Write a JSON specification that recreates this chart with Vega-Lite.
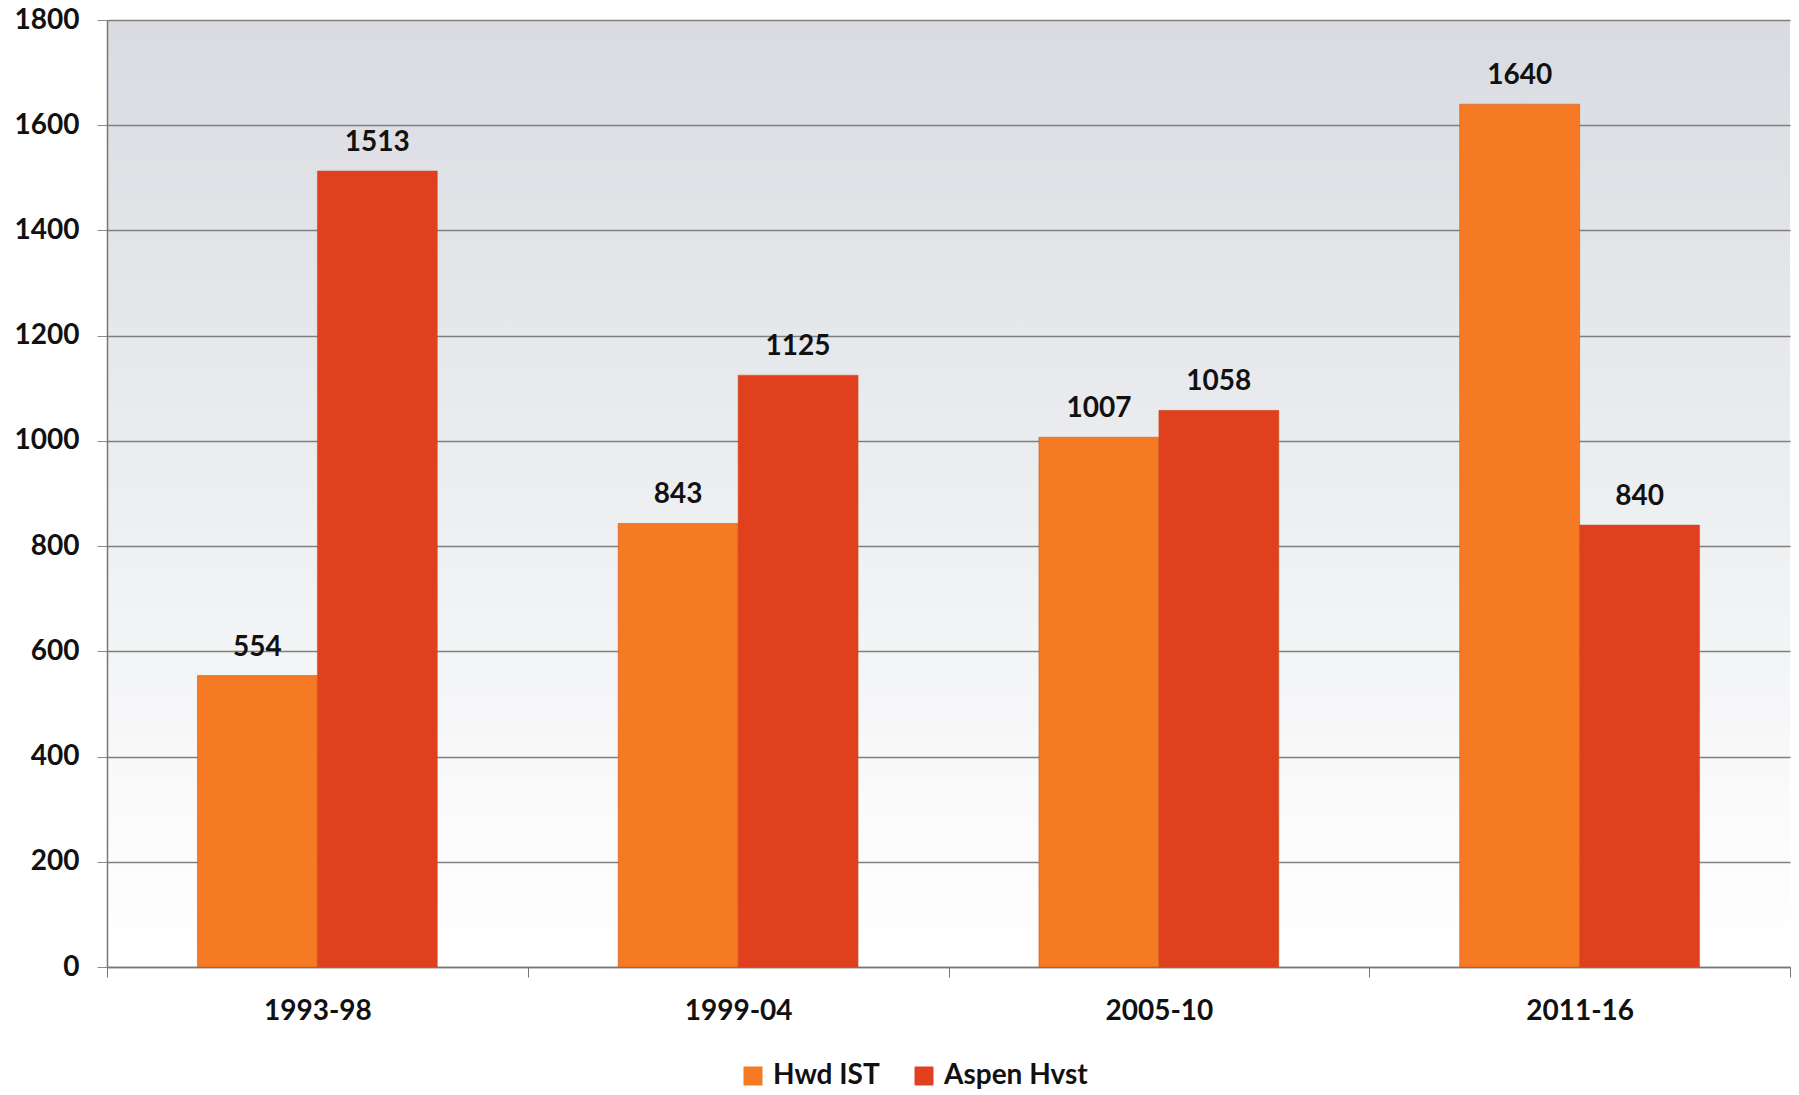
{
  "$schema": "https://vega.github.io/schema/vega-lite/v6.json",
  "autosize": {"type": "none"},
  "width": 1683,
  "height": 947,
  "padding": {"left": 107, "top": 20, "right": 9, "bottom": 128},
  "background": "#ffffff",
  "data": {
    "values": [
      {"period": "1993-98", "series": "Hwd IST", "value": 554},
      {"period": "1993-98", "series": "Aspen Hvst", "value": 1513},
      {"period": "1999-04", "series": "Hwd IST", "value": 843},
      {"period": "1999-04", "series": "Aspen Hvst", "value": 1125},
      {"period": "2005-10", "series": "Hwd IST", "value": 1007},
      {"period": "2005-10", "series": "Aspen Hvst", "value": 1058},
      {"period": "2011-16", "series": "Hwd IST", "value": 1640},
      {"period": "2011-16", "series": "Aspen Hvst", "value": 840}
    ]
  },
  "encoding": {
    "x": {
      "field": "period", "type": "nominal", "sort": null, "title": null,
      "scale": {"paddingInner": 0, "paddingOuter": 0},
      "axis": {
        "labelAngle": 0, "labelFont": "Lato", "labelFontWeight": "bold", "labelFontSize": 28,
        "labelColor": "#111111", "labelPadding": 20, "tickBand": "extent", "tickSize": 10,
        "tickColor": "#777777", "domainColor": "#777777", "domainWidth": 1.5, "grid": false
      }
    },
    "xOffset": {"field": "series", "type": "nominal", "sort": ["Hwd IST", "Aspen Hvst"], "scale": {"domain": ["Hwd IST", "Aspen Hvst"], "paddingInner": 0, "paddingOuter": 0.754}},
    "y": {
      "field": "value", "type": "quantitative", "title": null,
      "scale": {"domain": [0, 1800], "nice": false},
      "axis": {
        "values": [0, 200, 400, 600, 800, 1000, 1200, 1400, 1600, 1800], "format": "d",
        "labelFont": "Lato", "labelFontWeight": "bold", "labelFontSize": 28, "labelColor": "#111111",
        "labelPadding": 18, "tickSize": 10, "tickColor": "#888888", "gridColor": "#7f7f7f", "gridWidth": 1.3,
        "domainColor": "#777777", "domainWidth": 1.5
      }
    }
  },
  "layer": [
    {
      "mark": {"type": "bar", "stroke": "#c8501a", "strokeWidth": 1, "strokeOpacity": 0.5},
      "encoding": {
        "color": {
          "field": "series", "type": "nominal", "sort": ["Hwd IST", "Aspen Hvst"], "title": null,
          "scale": {"domain": ["Hwd IST", "Aspen Hvst"], "range": ["#f57a23", "#e1401f"]},
          "legend": {
            "orient": "none", "direction": "horizontal", "legendX": 632, "legendY": 1042,
            "symbolType": "square", "symbolSize": 360, "symbolStrokeWidth": 0,
            "labelFont": "Lato", "labelFontWeight": "bold", "labelFontSize": 28, "labelColor": "#111111",
            "columnPadding": 30, "labelOffset": 6
          }
        }
      }
    },
    {
      "mark": {"type": "text", "baseline": "alphabetic", "dy": -20, "font": "Lato", "fontWeight": "bold", "fontSize": 28, "color": "#111111"},
      "encoding": {"text": {"field": "value", "type": "quantitative", "format": "d"}}
    }
  ],
  "config": {
    "view": {
      "stroke": null,
      "fill": {
        "gradient": "linear", "x1": 0, "y1": 0, "x2": 0, "y2": 1,
        "stops": [
          {"offset": 0, "color": "#d9dbe1"},
          {"offset": 0.5, "color": "#eceef0"},
          {"offset": 0.85, "color": "#fbfbfc"},
          {"offset": 1, "color": "#ffffff"}
        ]
      }
    }
  }
}
